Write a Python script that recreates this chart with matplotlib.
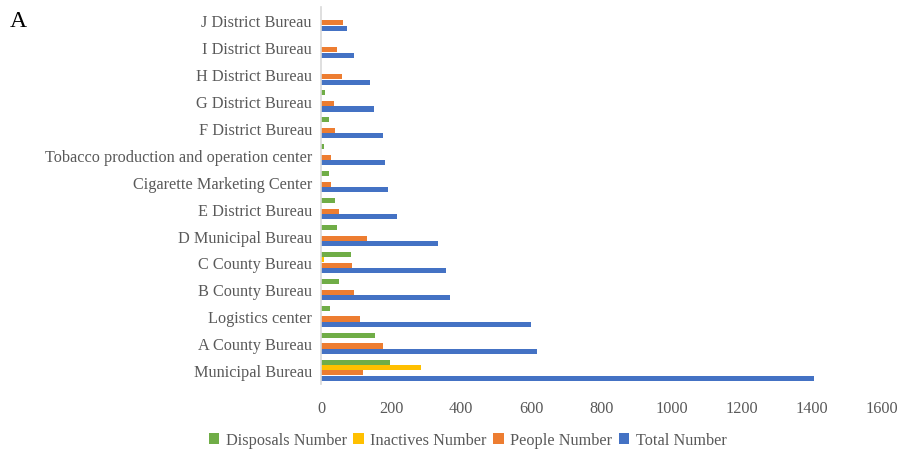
import matplotlib
matplotlib.use("Agg")
import matplotlib.pyplot as plt
from matplotlib.patches import Patch
import numpy as np

plt.rcParams['font.family'] = ['Liberation Serif', 'DejaVu Serif']

categories = [
    "Municipal Bureau", "A County Bureau", "Logistics center", "B County Bureau",
    "C County Bureau", "D Municipal Bureau", "E District Bureau",
    "Cigarette Marketing Center", "Tobacco production and operation center",
    "F District Bureau", "G District Bureau", "H District Bureau",
    "I District Bureau", "J District Bureau",
]
disposals = [198, 155, 26, 52, 86, 46, 41, 22, 9, 24, 12, 0, 0, 0]
inactives = [284, 0, 0, 0, 9, 0, 0, 0, 0, 0, 0, 0, 0, 0]
people = [120, 178, 112, 95, 90, 132, 52, 30, 30, 41, 38, 61, 47, 64]
total = [1405, 615, 600, 369, 357, 335, 218, 192, 183, 178, 152, 140, 95, 75]
xticks = [0, 200, 400, 600, 800, 1000, 1200, 1400, 1600]

series = [
    ("Disposals Number", disposals, "#70AD47", 0.3),
    ("Inactives Number", inactives, "#FFC000", 0.1),
    ("People Number", people, "#ED7D31", -0.1),
    ("Total Number", total, "#4472C4", -0.3),
]

fig = plt.figure(figsize=(8.99, 4.52), dpi=100)
ax = fig.add_axes([0.357, 0.149, 0.624, 0.834])

y = np.arange(len(categories))
for name, vals, color, off in series:
    ax.barh(y + off, vals, height=0.19, color=color, label=name)

ax.set_ylim(-0.5, len(categories) - 0.5)
ax.set_xlim(0, 1600)
ax.set_xticks(xticks)
ax.set_xticklabels([str(t) for t in xticks])
ax.set_yticks(y)
ax.set_yticklabels(categories)

text_color = "#595959"
fs = 11.7
ax.tick_params(axis='both', length=0, labelsize=fs, colors=text_color)
ax.tick_params(axis='x', pad=12)
ax.tick_params(axis='y', pad=6.5)
for side in ("top", "right", "bottom"):
    ax.spines[side].set_visible(False)
ax.spines["left"].set_color("#D9D9D9")
ax.spines["left"].set_linewidth(1.2)

handles = [Patch(facecolor=c, label=n) for n, _, c, _ in series]
fig.legend(handles=handles, loc="center", bbox_to_anchor=(0.52, 0.024),
           ncol=4, frameon=False, fontsize=fs, handlelength=0.65,
           handleheight=0.65, handletextpad=0.4, columnspacing=0.4,
           labelcolor=text_color)

fig.text(0.011, 0.952, "A", fontsize=17, color="black", va="center", ha="left")

fig.savefig("out.png", dpi=100)
